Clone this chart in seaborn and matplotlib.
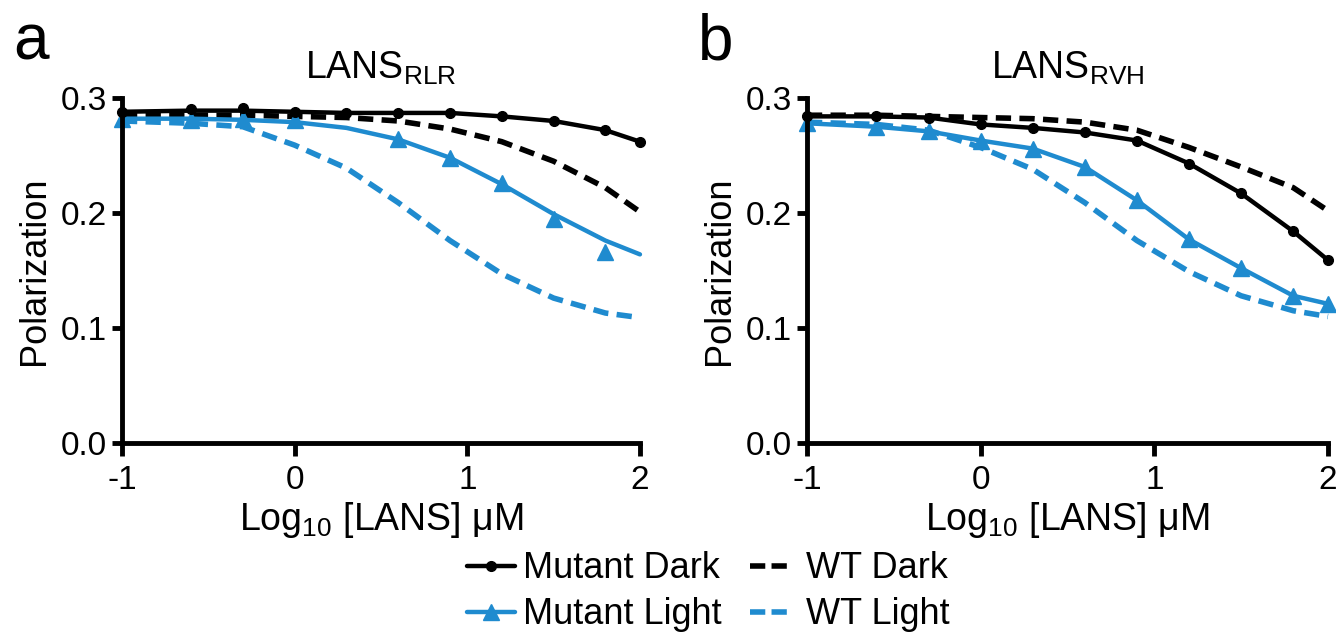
import numpy as np
import pandas as pd
import seaborn as sns
import matplotlib.pyplot as plt
from matplotlib.lines import Line2D

# log10 of LANS concentration (uM)
log_conc = [-1.0, -0.6, -0.3, 0.0, 0.3, 0.6, 0.9, 1.2, 1.5, 1.8, 2.0]

# panel a : LANS RLR  (fitted curves)
a_mut_dark = [0.288, 0.289, 0.289, 0.288, 0.287, 0.287, 0.287, 0.284, 0.280, 0.272, 0.262]
a_mut_light = [0.282, 0.282, 0.281, 0.279, 0.274, 0.264, 0.248, 0.225, 0.199, 0.176, 0.164]
a_wt_dark = [0.285, 0.285, 0.285, 0.284, 0.283, 0.280, 0.273, 0.262, 0.245, 0.222, 0.201]
a_wt_light = [0.280, 0.278, 0.275, 0.259, 0.239, 0.209, 0.176, 0.147, 0.126, 0.113, 0.109]
# panel a measured points
a_mut_dark_pts = [0.288, 0.290, 0.291, 0.288, 0.287, 0.287, 0.287, 0.284, 0.280, 0.272, 0.262]
a_mut_light_pts = [0.282, 0.281, 0.282, 0.281, np.nan, 0.264, 0.248, 0.226, 0.195, 0.166, np.nan]

# panel b : LANS RVH
b_mut_dark = [0.284, 0.284, 0.283, 0.277, 0.274, 0.270, 0.263, 0.243, 0.217, 0.184, 0.159]
b_mut_light = [0.278, 0.275, 0.271, 0.263, 0.256, 0.240, 0.211, 0.177, 0.152, 0.128, 0.121]
b_wt_dark = [0.285, 0.285, 0.284, 0.283, 0.282, 0.279, 0.272, 0.257, 0.240, 0.222, 0.202]
b_wt_light = [0.279, 0.277, 0.272, 0.257, 0.238, 0.209, 0.176, 0.149, 0.128, 0.115, 0.110]
b_mut_dark_pts = b_mut_dark
b_mut_light_pts = b_mut_light

titles = [r'LANS$_\mathregular{RLR}$', r'LANS$_\mathregular{RVH}$']
panel_letters = ['a', 'b']
series_names = ['Mutant Dark', 'Mutant Light', 'WT Dark', 'WT Light']

BLACK = '#000000'
BLUE = '#1f8bcf'

sns.set_style('ticks')
plt.rcParams['font.family'] = ['Liberation Sans', 'DejaVu Sans']
plt.rcParams['axes.unicode_minus'] = False
plt.rcParams['lines.scale_dashes'] = False
plt.rcParams['text.color'] = 'black'
plt.rcParams['axes.labelcolor'] = 'black'
plt.rcParams['xtick.color'] = 'black'
plt.rcParams['ytick.color'] = 'black'
plt.rcParams['axes.edgecolor'] = 'black'

fig = plt.figure(figsize=(13.36, 6.35), dpi=100)
ax_a = fig.add_axes([0.0913, 0.3024, 0.3877, 0.5433])
ax_b = fig.add_axes([0.6040, 0.3024, 0.3900, 0.5433])

panels = [
    (ax_a, a_mut_dark, a_mut_light, a_wt_dark, a_wt_light, a_mut_dark_pts, a_mut_light_pts),
    (ax_b, b_mut_dark, b_mut_light, b_wt_dark, b_wt_light, b_mut_dark_pts, b_mut_light_pts),
]

for i, (ax, md, ml, wd, wl, md_pts, ml_pts) in enumerate(panels):
    # dashed WT fits first, then mutants on top
    for vals, col in [(wd, BLACK), (wl, BLUE)]:
        sns.lineplot(x=log_conc, y=vals, ax=ax, color=col, linewidth=4, clip_on=False)
        ax.lines[-1].set_dashes([11, 6])
    sns.lineplot(x=log_conc, y=ml, ax=ax, color=BLUE, linewidth=3.2, clip_on=False)
    sns.lineplot(x=log_conc, y=md, ax=ax, color=BLACK, linewidth=3.2, clip_on=False)
    pts = pd.DataFrame({'x': log_conc, 'dark': md_pts, 'light': ml_pts})
    ax.plot(pts['x'], pts['light'], linestyle='none', marker='^', markersize=11,
            color=BLUE, clip_on=False)
    ax.plot(pts['x'], pts['dark'], linestyle='none', marker='o', markersize=7,
            color=BLACK, clip_on=False)

    ax.set_xlim(-1, 2)
    ax.set_ylim(0, 0.3)
    ax.set_xticks([-1, 0, 1, 2])
    ax.set_xticklabels(['-1', '0', '1', '2'])
    ax.set_yticks([0.0, 0.1, 0.2, 0.3])
    ax.set_yticklabels(['0.0', '0.1', '0.2', '0.3'])
    sns.despine(ax=ax)
    for s in ['left', 'bottom']:
        ax.spines[s].set_linewidth(3.5)
    ax.tick_params(axis='both', width=3.5, labelsize=24)
    ax.tick_params(axis='x', length=9, pad=7)
    ax.tick_params(axis='y', length=7, pad=4)
    ax.set_xlabel(r'Log$_\mathregular{10}$ [LANS] μM', fontsize=27, labelpad=3)
    ax.set_ylabel('Polarization', fontsize=26, labelpad=6)
    ax.set_title(titles[i], fontsize=27, pad=14)
    ax.text(-0.21, 1.075, panel_letters[i], transform=ax.transAxes, fontsize=46,
            ha='left', va='bottom')

handles = [
    Line2D([], [], color=BLACK, linewidth=3.2, marker='o', markersize=7),
    Line2D([], [], color=BLUE, linewidth=3.2, marker='^', markersize=11),
    Line2D([], [], color=BLACK, linewidth=4, dashes=[11, 4.5, 11, 10]),
    Line2D([], [], color=BLUE, linewidth=4, dashes=[11, 4.5, 11, 10]),
]
labels = [series_names[0], series_names[1], series_names[2], series_names[3]]
fig.legend(handles, labels, ncol=2, loc='center', bbox_to_anchor=(0.53, 0.068),
           frameon=False, fontsize=26, handlelength=1.35, handletextpad=0.2,
           columnspacing=0.8, labelspacing=0.3, borderpad=0)

fig.savefig('out.png', dpi=100)
